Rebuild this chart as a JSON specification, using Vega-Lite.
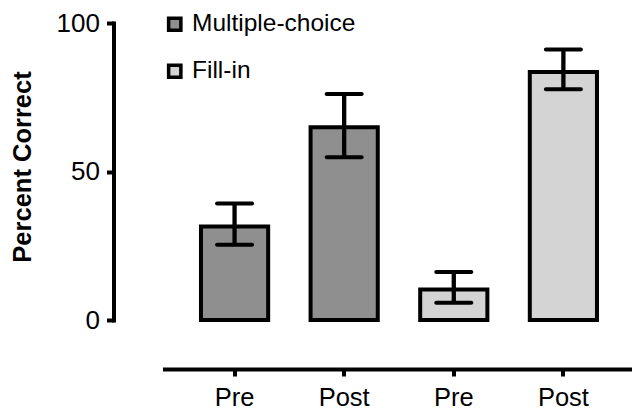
{
  "$schema": "https://vega.github.io/schema/vega-lite/v6.json",
  "autosize": {"type": "none"},
  "padding": {"left": 162.5, "top": 23, "right": 0, "bottom": 90},
  "width": 470,
  "height": 297,
  "background": "white",
  "data": {
    "values": [
      {"key": "MC Pre", "type": "Multiple-choice", "mean": 31.5, "lo": 25.3, "hi": 39.2},
      {"key": "MC Post", "type": "Multiple-choice", "mean": 64.9, "lo": 54.8, "hi": 76.1},
      {"key": "FI Pre", "type": "Fill-in", "mean": 10.3, "lo": 5.8, "hi": 16.2},
      {"key": "FI Post", "type": "Fill-in", "mean": 83.5, "lo": 77.7, "hi": 91.1}
    ]
  },
  "encoding": {
    "x": {
      "field": "key",
      "type": "nominal",
      "sort": ["MC Pre", "MC Post", "FI Pre", "FI Post"],
      "scale": {"paddingInner": 0.387, "paddingOuter": 0.3375, "align": 0.52},
      "axis": {
        "title": null,
        "labelExpr": "split(datum.value, ' ')[1]",
        "labelAngle": 0,
        "offset": 49,
        "domainWidth": 4,
        "tickWidth": 4,
        "tickSize": 7,
        "labelFontSize": 25.5,
        "labelPadding": 9
      }
    }
  },
  "layer": [
    {
      "mark": {"type": "bar", "stroke": "black", "strokeWidth": 4, "opacity": 1},
      "encoding": {
        "y": {
          "field": "mean",
          "type": "quantitative",
          "scale": {"domain": [0, 100], "nice": false},
          "axis": {
            "title": "Percent Correct",
            "values": [0, 50, 100],
            "offset": 49,
            "domainWidth": 4,
            "domainCap": "square",
            "tickWidth": 4,
            "tickSize": 7,
            "labelFontSize": 26,
            "labelPadding": 7,
            "titleFontSize": 25.5,
            "titleFontWeight": "bold",
            "titlePadding": 21,
            "titleY": 143.5
          }
        },
        "fill": {
          "field": "type",
          "type": "nominal",
          "scale": {"domain": ["Multiple-choice", "Fill-in"], "range": ["#8f8f8f", "#d4d4d4"]},
          "legend": {
            "title": null,
            "orient": "none",
            "legendX": 0,
            "legendY": -11,
            "padding": 0,
            "symbolType": "square",
            "symbolSize": 150,
            "symbolStrokeColor": "black",
            "symbolStrokeWidth": 3.5,
            "labelFontSize": 24.5,
            "labelLimit": 0,
            "labelOffset": 5,
            "rowPadding": 20,
            "labelColor": "black",
            "labelFont": "Liberation Sans"
          }
        }
      }
    },
    {
      "mark": {"type": "rule", "color": "black", "strokeWidth": 4.3},
      "encoding": {
        "y": {"field": "lo", "type": "quantitative"},
        "y2": {"field": "hi"}
      }
    },
    {
      "mark": {"type": "tick", "color": "black", "size": 39, "thickness": 4, "cornerRadius": 2, "opacity": 1},
      "encoding": {"y": {"field": "lo", "type": "quantitative"}}
    },
    {
      "mark": {"type": "tick", "color": "black", "size": 39, "thickness": 4, "cornerRadius": 2, "opacity": 1},
      "encoding": {"y": {"field": "hi", "type": "quantitative"}}
    }
  ],
  "config": {
    "view": {"stroke": null},
    "font": "Liberation Sans",
    "axis": {
      "grid": false,
      "domainColor": "black",
      "tickColor": "black",
      "labelColor": "black",
      "titleColor": "black",
      "labelFont": "Liberation Sans",
      "titleFont": "Liberation Sans"
    }
  }
}
